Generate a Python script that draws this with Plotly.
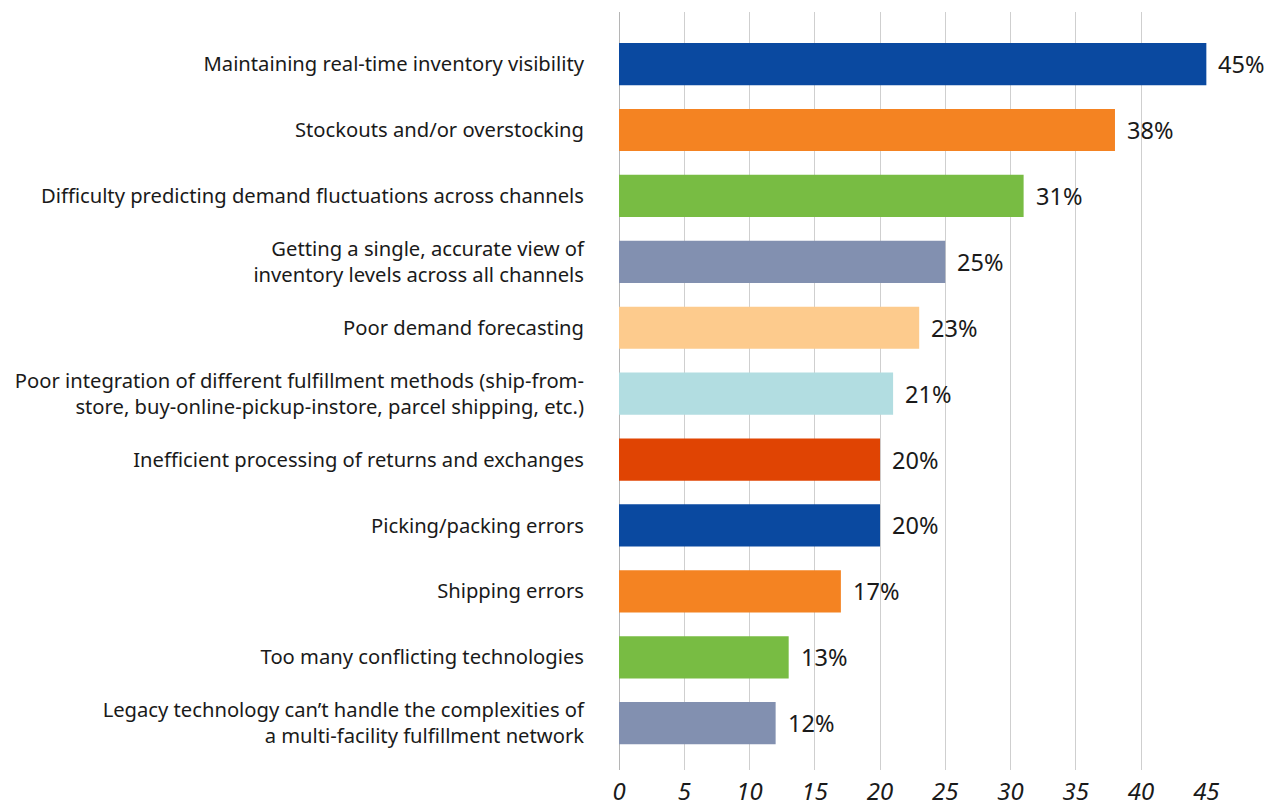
import plotly.graph_objects as go

categories = [
    "Maintaining real-time inventory visibility",
    "Stockouts and/or overstocking",
    "Difficulty predicting demand fluctuations across channels",
    "Getting a single, accurate view of<br>inventory levels across all channels",
    "Poor demand forecasting",
    "Poor integration of different fulfillment methods (ship-from-<br>store, buy-online-pickup-instore, parcel shipping, etc.)",
    "Inefficient processing of returns and exchanges",
    "Picking/packing errors",
    "Shipping errors",
    "Too many conflicting technologies",
    "Legacy technology can\u2019t handle the complexities of<br>a multi-facility fulfillment network",
]
values = [45, 38, 31, 25, 23, 21, 20, 20, 17, 13, 12]
colors = [
    "#0A49A0", "#F48322", "#78BC43", "#8290B0", "#FDCB8D", "#B2DDE1",
    "#E04403", "#0A49A0", "#F48322", "#78BC43", "#8290B0",
]
x_ticks = [0, 5, 10, 15, 20, 25, 30, 35, 40, 45]

FONT = "Noto Sans"
TEXT_COLOR = "#1a1a1a"

fig = go.Figure(
    go.Bar(
        x=values,
        y=categories,
        orientation="h",
        marker=dict(color=colors, line=dict(width=0)),
        width=0.64,
        hoverinfo="skip",
    )
)

# percentage labels just past the end of each bar
for cat, val in zip(categories, values):
    fig.add_annotation(
        x=val, y=cat, text=f"{val}%", showarrow=False,
        xanchor="left", yanchor="middle", xshift=10,
        font=dict(family=FONT, size=23.5, color=TEXT_COLOR),
    )

fig.update_layout(
    width=1279, height=810,
    margin=dict(l=619, r=72, t=12, b=40, autoexpand=False),
    paper_bgcolor="white", plot_bgcolor="white",
    showlegend=False,
    font=dict(family=FONT, color=TEXT_COLOR),
)
fig.update_xaxes(
    range=[0, 45.05],
    tickvals=x_ticks,
    automargin=False,
    showgrid=True, gridcolor="#cfcfcf", gridwidth=1.3,
    zeroline=True, zerolinecolor="#b5b5b5", zerolinewidth=1.3,
    showline=False, ticks="",
    tickfont=dict(family=FONT, size=24, color=TEXT_COLOR, style="italic"),
    ticklabelstandoff=5,
)
fig.update_yaxes(
    categoryorder="array", categoryarray=categories,
    range=[10.71, -0.79],
    automargin=False,
    showgrid=False, zeroline=False, showline=False, ticks="",
    tickfont=dict(family=FONT, size=20.2, color=TEXT_COLOR),
    ticklabelstandoff=34,
)

fig.write_html("out.html")
